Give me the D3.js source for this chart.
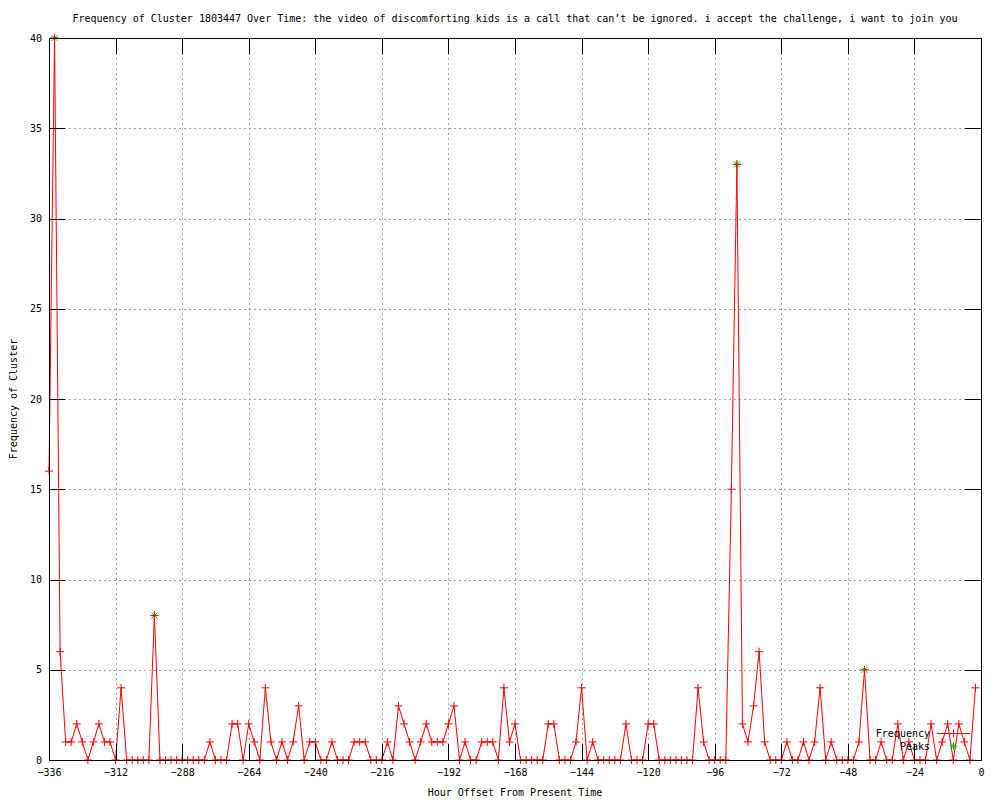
<!DOCTYPE html>
<html>
<head>
<meta charset="utf-8">
<script src="https://cdn.jsdelivr.net/npm/d3@7"></script>
<style>
  body { margin: 0; background: #fff; }
  text { font-family: "DejaVu Sans Mono", "Liberation Mono", monospace; font-size: 10px; fill: #000; }
</style>
</head>
<body>
<div id="chart"></div>
<script>
// data: counts every 2 hours, from -336 to -2
const hours = d3.range(-336, 0, 2);
const frequency = [
  16, 40, 6, 1, 1, 2, 1, 0, 1, 2, 1, 1, 0, 4, 0, 0, 0, 0, 0, 8,
  0, 0, 0, 0, 0, 0, 0, 0, 0, 1, 0, 0, 0, 2, 2, 0, 2, 1, 0, 4,
  1, 0, 1, 0, 1, 3, 0, 1, 1, 0, 0, 1, 0, 0, 0, 1, 1, 1, 0, 0,
  0, 1, 0, 3, 2, 1, 0, 1, 2, 1, 1, 1, 2, 3, 0, 1, 0, 0, 1, 1,
  1, 0, 4, 1, 2, 0, 0, 0, 0, 0, 2, 2, 0, 0, 0, 1, 4, 0, 1, 0,
  0, 0, 0, 0, 2, 0, 0, 0, 2, 2, 0, 0, 0, 0, 0, 0, 0, 4, 1, 0,
  0, 0, 0, 15, 33, 2, 1, 3, 6, 1, 0, 0, 0, 1, 0, 0, 1, 0, 1, 4,
  0, 1, 0, 0, 0, 0, 1, 5, 0, 0, 1, 0, 0, 2, 0, 1, 0, 0, 0, 2,
  0, 1, 2, 0, 2, 1, 0, 4
];
const peakHours = [-334, -298, -88, -42];
const peakValues = [40, 8, 33, 5];

const xTicks = d3.range(-336, 1, 24);
const yTicks = d3.range(0, 41, 5);

const titleText = "Frequency of Cluster 1803447 Over Time: the video of discomforting kids is a call that can\u2019t be ignored. i accept the challenge, i want to join you";

const width = 1000;
const height = 800;
const margin = { left: 49, right: 19, top: 38, bottom: 40 };
const innerW = width - margin.left - margin.right;
const innerH = height - margin.top - margin.bottom;

const svg = d3.select("#chart")
  .append("svg")
    .attr("width", width)
    .attr("height", height);

const x = d3.scaleLinear()
  .domain([-336, 0])
  .range([margin.left, margin.left + innerW]);

const y = d3.scaleLinear()
  .domain([0, 40])
  .range([margin.top + innerH, margin.top]);

const plusPath = "M-4,0H4M0,-4V4";
const starPath = "M-4,0H4M0,-4V4M-3,-3L3,3M-3,3L3,-3";

// grid
const grid = svg.append("g")
  .attr("stroke", "#a0a0a0")
  .attr("stroke-dasharray", "2,3")
  .attr("shape-rendering", "crispEdges");

grid.selectAll(".gx")
  .data(xTicks.slice(1, -1)).enter()
  .append("line")
    .attr("x1", (d) => Math.round(x(d)) + 0.5)
    .attr("x2", (d) => Math.round(x(d)) + 0.5)
    .attr("y1", y(0))
    .attr("y2", y(40));

grid.selectAll(".gy")
  .data(yTicks.slice(1, -1)).enter()
  .append("line")
    .attr("y1", (d) => Math.round(y(d)) + 0.5)
    .attr("y2", (d) => Math.round(y(d)) + 0.5)
    .attr("x1", x(-336))
    .attr("x2", x(0));

// axes: ticks point inward, mirrored on top and right
const axisBottom = d3.axisBottom(x)
  .tickValues(xTicks)
  .tickSizeInner(-16)
  .tickSizeOuter(0)
  .tickPadding(9)
  .tickFormat(d3.format("d"));

const axisLeft = d3.axisLeft(y)
  .tickValues(yTicks)
  .tickSizeInner(-16)
  .tickSizeOuter(0)
  .tickPadding(7)
  .tickFormat(d3.format("d"));

const axisTop = d3.axisTop(x).tickValues(xTicks).tickSizeInner(-16).tickSizeOuter(0).tickFormat("");
const axisRight = d3.axisRight(y).tickValues(yTicks).tickSizeInner(-16).tickSizeOuter(0).tickFormat("");

const styleAxis = (g) => {
  g.select(".domain").remove();
  g.selectAll("line").attr("stroke", "#000").attr("shape-rendering", "crispEdges");
  g.selectAll("text")
    .style("font-family", "'DejaVu Sans Mono', monospace")
    .style("font-size", "10px")
    .attr("fill", "#000");
};

// frequency line
const line = d3.line()
  .x((d, i) => x(hours[i]))
  .y((d) => y(d));

svg.append("path")
  .datum(frequency)
  .attr("d", line)
  .attr("fill", "none")
  .attr("stroke", "#ff0000")
  .attr("stroke-width", 1);

// peaks (under the red crosses)
svg.append("g")
  .selectAll(".peak")
  .data(peakValues).enter()
  .append("path")
    .attr("class", "peak")
    .attr("d", starPath)
    .attr("transform", (d, i) => `translate(${x(peakHours[i])},${y(d)})`)
    .attr("stroke", "#00c000")
    .attr("fill", "none");

svg.append("g")
  .selectAll(".freq")
  .data(frequency).enter()
  .append("path")
    .attr("class", "freq")
    .attr("d", plusPath)
    .attr("transform", (d, i) => `translate(${x(hours[i])},${y(d)})`)
    .attr("stroke", "#ff0000")
    .attr("fill", "none");

svg.append("g")
  .attr("transform", `translate(0,${y(0)})`)
  .call(axisBottom)
  .call(styleAxis);

svg.append("g")
  .attr("transform", `translate(${x(-336)},0)`)
  .call(axisLeft)
  .call(styleAxis);

svg.append("g")
  .attr("transform", `translate(0,${y(40)})`)
  .call(axisTop)
  .call(styleAxis);

svg.append("g")
  .attr("transform", `translate(${x(0)},0)`)
  .call(axisRight)
  .call(styleAxis);

// border
svg.append("rect")
  .attr("x", Math.round(x(-336)) + 0.5)
  .attr("y", Math.round(y(40)) + 0.5)
  .attr("width", Math.round(x(0)) - Math.round(x(-336)))
  .attr("height", Math.round(y(0)) - Math.round(y(40)))
  .attr("fill", "none")
  .attr("stroke", "#000")
  .attr("shape-rendering", "crispEdges");

// legend
const legend = svg.append("g")
  .attr("transform", "translate(930,733)");

legend.append("text")
  .attr("text-anchor", "end")
  .attr("dy", "0.35em")
  .text("Frequency");

legend.append("line")
  .attr("x1", 7)
  .attr("x2", 40)
  .attr("y1", 0.5)
  .attr("y2", 0.5)
  .attr("stroke", "#ff0000");

legend.append("path")
  .attr("d", plusPath)
  .attr("transform", "translate(23.5,0.5)")
  .attr("stroke", "#ff0000")
  .attr("fill", "none");

legend.append("text")
  .attr("text-anchor", "end")
  .attr("y", 13)
  .attr("dy", "0.35em")
  .text("Peaks");

legend.append("path")
  .attr("d", starPath)
  .attr("transform", "translate(23.5,13)")
  .attr("stroke", "#00c000")
  .attr("fill", "none");

// titles
svg.append("text")
  .attr("x", margin.left + innerW / 2)
  .attr("y", 22)
  .attr("text-anchor", "middle")
  .text(titleText);

svg.append("text")
  .attr("x", margin.left + innerW / 2)
  .attr("y", 796)
  .attr("text-anchor", "middle")
  .text("Hour Offset From Present Time");

svg.append("text")
  .attr("transform", `translate(17,${y(20)})rotate(-90)`)
  .attr("text-anchor", "middle")
  .text("Frequency of Cluster");
</script>
</body>
</html>
